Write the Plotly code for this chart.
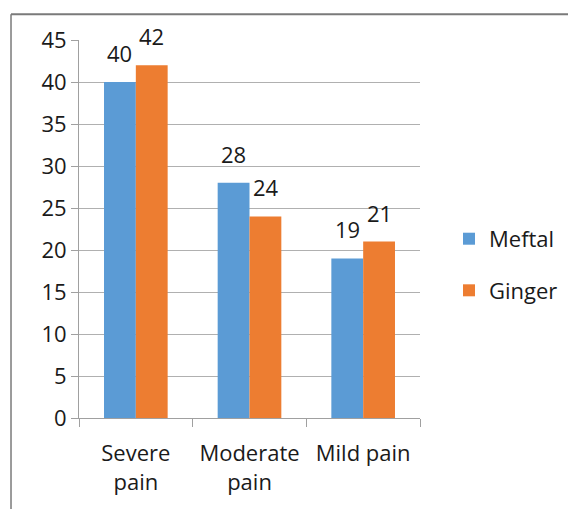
import plotly.graph_objects as go

categories = ["Severe<br>pain", "Moderate<br>pain", "Mild pain"]
meftal = [40, 28, 19]
ginger = [42, 24, 21]
series_names = ["Meftal", "Ginger"]
colors = ["#5B9BD5", "#ED7D31"]

FONT = "'Open Sans', sans-serif"
TXT = "#1a1a1a"

fig = go.Figure()
for name, vals, col, grp in zip(series_names, [meftal, ginger], colors, ["a", "b"]):
    fig.add_trace(go.Bar(
        x=categories, y=vals, name=name, marker_color=col,
        marker_line_width=0, legendgroup=grp,
    ))

# data labels above each bar (offset left/right to sit over each bar of the pair)
for vals, shift in zip([meftal, ginger], [-16, 16]):
    for cat, v in zip(categories, vals):
        fig.add_annotation(x=cat, y=v, text=str(v), showarrow=False,
                           xshift=shift, yshift=12, yanchor="bottom",
                           font=dict(size=22, color=TXT))

# page body has an 8px margin, so the figure is sized/placed to compensate
fig.update_layout(
    width=568, height=501,
    margin=dict(l=71, r=156, t=32, b=91),
    paper_bgcolor="white", plot_bgcolor="white",
    barmode="group", bargap=0.44, bargroupgap=0,
    font=dict(family=FONT, size=22, color=TXT),
    legend=dict(x=1.085, y=0.405, xanchor="left", yanchor="middle",
                font=dict(size=22), tracegroupgap=20, itemwidth=30),
    showlegend=True,
)
fig.update_yaxes(range=[0, 45], dtick=5, showgrid=True, gridcolor="#b0b0b0",
                 showline=True, linecolor="#a0a0a0", ticks="outside",
                 ticklen=7, tickcolor="#a0a0a0", zeroline=False,
                 tickfont=dict(size=22, color=TXT))
fig.update_xaxes(showline=True, linecolor="#a0a0a0", ticks="outside",
                 tickson="boundaries", ticklen=8, tickcolor="#a0a0a0",
                 ticklabelstandoff=16,
                 tickfont=dict(size=22, color=TXT))

# outer chart frame (left and top borders; the rest lies outside the view)
fig.add_shape(type="line", xref="paper", yref="paper",
              x0=-0.1994, x1=-0.1994, y0=-0.4, y1=1.068,
              line=dict(color="#7a7a7a", width=1.5), layer="above")
fig.add_shape(type="line", xref="paper", yref="paper",
              x0=-0.1994, x1=1.45, y0=1.068, y1=1.068,
              line=dict(color="#7a7a7a", width=2), layer="above")

fig.write_html("out.html")
